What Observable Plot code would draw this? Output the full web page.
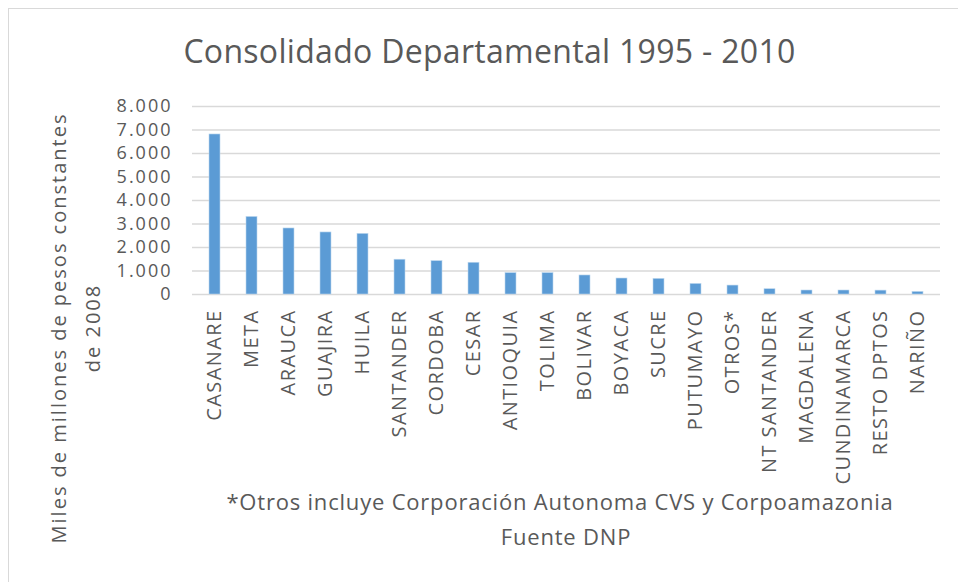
<!DOCTYPE html>
<html>
<head>
<meta charset="utf-8">
<script src="https://cdn.jsdelivr.net/npm/d3@7"></script>
<script src="https://cdn.jsdelivr.net/npm/@observablehq/plot@0.6"></script>
<style>
  html, body { margin: 0; padding: 0; background: #fff; overflow: hidden; }
  #wrap { position: relative; width: 958px; height: 582px; font-family: "Open Sans", sans-serif; color: #595959; }
  #frame { position: absolute; left: 8px; top: 8px; width: 980px; height: 600px; border: 1px solid #d9d9d9; box-sizing: border-box; }
  #chart { position: absolute; left: 0; top: 0; }
  .t { position: absolute; white-space: nowrap; color: #595959; }
  #title { left: 0; width: 979px; text-align: center; top: 29px; font-size: 32px; letter-spacing: 0.3px; }
  #ylab { left: 76px; top: 328px; font-size: 20px; letter-spacing: 2px; line-height: 34px; text-align: center; transform: translate(-50%, -50%) rotate(-90deg); }
  #cap1 { left: 0; width: 1120px; text-align: center; top: 486px; font-size: 22px; letter-spacing: 0.8px; }
  #cap2 { left: 0; width: 1132px; text-align: center; top: 521px; font-size: 22px; letter-spacing: 0.8px; }
  g[aria-label="x-axis tick label"] text { letter-spacing: 1.4px; }
  g[aria-label="y-axis tick label"] text { letter-spacing: 2px; }
</style>
</head>
<body>
<div id="wrap">
  <div id="frame"></div>
  <div id="chart"></div>
  <div class="t" id="title">Consolidado Departamental 1995 - 2010</div>
  <div class="t" id="ylab">Miles de millones de pesos constantes<br>de 2008</div>
  <div class="t" id="cap1">*Otros incluye Corporación Autonoma CVS y Corpoamazonia</div>
  <div class="t" id="cap2">Fuente DNP</div>
</div>
<script>
const departamentos = ["CASANARE","META","ARAUCA","GUAJIRA","HUILA","SANTANDER","CORDOBA","CESAR","ANTIOQUIA","TOLIMA","BOLIVAR","BOYACA","SUCRE","PUTUMAYO","OTROS*","NT SANTANDER","MAGDALENA","CUNDINAMARCA","RESTO DPTOS","NARIÑO"];
const valores = [6810, 3300, 2810, 2640, 2580, 1480, 1420, 1350, 910, 910, 810, 680, 665, 450, 380, 225, 170, 170, 165, 110];
const yTicks = [0, 1000, 2000, 3000, 4000, 5000, 6000, 7000, 8000];

const data = departamentos.map((d, i) => ({ dep: d, val: valores[i] }));
const fmt = d3.formatLocale({ decimal: ",", thousands: ".", grouping: [3] }).format(",.0f");

const chart = Plot.plot({
  width: 958,
  height: 582,
  marginTop: 106,
  marginBottom: 288,
  marginLeft: 192,
  marginRight: 18,
  style: { fontFamily: "Open Sans, sans-serif", fontSize: "18px", color: "#595959", background: "transparent" },
  x: { domain: departamentos, paddingInner: 0.69, paddingOuter: 0.345, label: null },
  y: { domain: [0, 8000], label: null },
  marks: [
    Plot.ruleY(yTicks, { stroke: "#d9d9d9", strokeWidth: 1.5 }),
    Plot.barY(data, { x: "dep", y: "val", fill: "#5b9bd5", stroke: "#bdd7ee", strokeWidth: 0.6 }),
    Plot.axisY({ ticks: yTicks, tickFormat: fmt, tickSize: 0, tickPadding: 20, label: null, fontSize: 18, fill: "#595959" }),
    Plot.axisX({ tickRotate: -90, tickSize: 0, tickPadding: 15, label: null, fontSize: 20, fill: "#595959" })
  ]
});
document.getElementById("chart").appendChild(chart);
</script>
</body>
</html>
